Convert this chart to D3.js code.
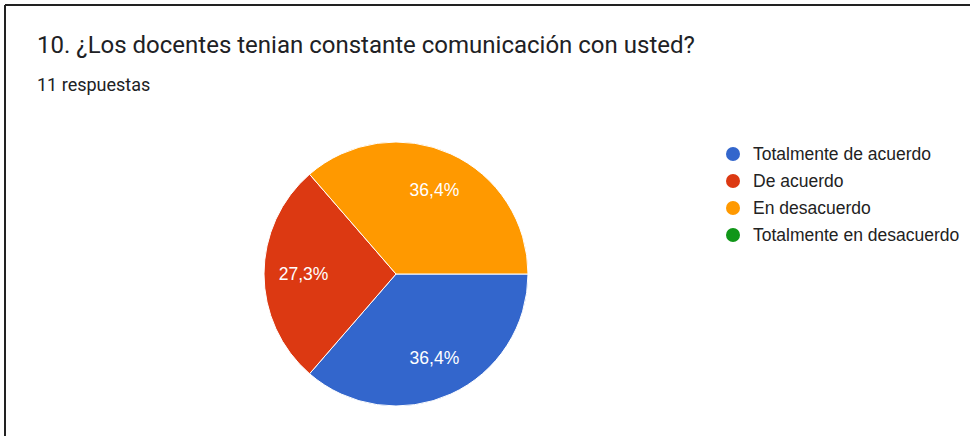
<!DOCTYPE html>
<html>
<head>
<meta charset="utf-8">
<script src="https://cdn.jsdelivr.net/npm/d3@7"></script>
<style>
  html, body { margin: 0; padding: 0; background: #fff; }
  svg { display: block; }
</style>
</head>
<body>
<svg id="chart" width="970" height="436"></svg>
<script>
const categories = ["Totalmente de acuerdo", "De acuerdo", "En desacuerdo", "Totalmente en desacuerdo"];
const counts = [4, 3, 4, 0];
const colors = ["#3366cc", "#dc3912", "#ff9900", "#109618"];
const title = "10. ¿Los docentes tenian constante comunicación con usted?";
const subtitle = "11 respuestas";

const svg = d3.select("#chart");

// frame (top and left edges)
svg.append("line").attr("x1", 5).attr("y1", 5).attr("x2", 970).attr("y2", 5)
  .attr("stroke", "#222").attr("stroke-width", 2);
svg.append("line").attr("x1", 5).attr("y1", 5).attr("x2", 5).attr("y2", 436)
  .attr("stroke", "#222").attr("stroke-width", 2);

svg.append("text").attr("x", 37).attr("y", 53)
  .attr("font-family", "Roboto, Arial, sans-serif").attr("font-size", 24)
  .attr("fill", "#202124").text(title);
svg.append("text").attr("x", 37).attr("y", 91)
  .attr("font-family", "Roboto, Arial, sans-serif").attr("font-size", 18)
  .attr("fill", "#202124").text(subtitle);

const cx = 396, cy = 274, r = 132;
const total = d3.sum(counts);
const data = categories.map((c, i) => ({ name: c, value: counts[i], color: colors[i] }));

const pie = d3.pie().value(d => d.value).sort(null)
  .startAngle(Math.PI / 2).endAngle(Math.PI / 2 + 2 * Math.PI);
const arcs = pie(data);
const arc = d3.arc().innerRadius(0).outerRadius(r);
const labelArc = d3.arc().innerRadius(r * 0.7).outerRadius(r * 0.7);

const g = svg.append("g").attr("transform", `translate(${cx},${cy})`);
g.selectAll("path").data(arcs.filter(d => d.data.value > 0)).join("path")
  .attr("d", arc).attr("fill", d => d.data.color)
  .attr("stroke", "#fff").attr("stroke-width", 1);

const fmt = v => (Math.round(v * 1000) / 10).toFixed(1).replace(".", ",") + "%";
g.selectAll("text.lbl").data(arcs.filter(d => d.data.value > 0)).join("text")
  .attr("class", "lbl")
  .attr("transform", d => `translate(${labelArc.centroid(d)})`)
  .attr("text-anchor", "middle").attr("dy", "0.36em")
  .attr("font-family", "Arial, 'Liberation Sans', sans-serif").attr("font-size", 17.5)
  .attr("fill", "#fff")
  .text(d => fmt(d.data.value / total));

// legend
const ly = d3.scaleLinear().domain([0, 1]).range([154, 181]);
const lg = svg.append("g");
data.forEach((d, i) => {
  lg.append("circle").attr("cx", 733).attr("cy", ly(i)).attr("r", 7).attr("fill", d.color);
  lg.append("text").attr("x", 753).attr("y", ly(i)).attr("dy", "0.36em")
    .attr("font-family", "Arial, 'Liberation Sans', sans-serif").attr("font-size", 17.5)
    .attr("fill", "#222").text(d.name);
});
</script>
</body>
</html>
